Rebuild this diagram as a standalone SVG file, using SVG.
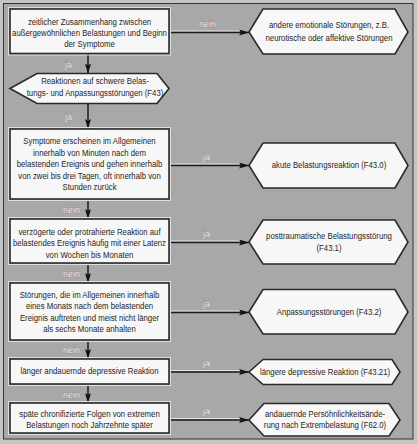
<svg xmlns="http://www.w3.org/2000/svg" width="417" height="444" viewBox="0 0 417 444">
<defs>
<style>
.box{fill:#f7f7f7;stroke:#2a2a2a;stroke-width:1.6}
.rim{fill:none;stroke:#dedede;stroke-width:1}
.t{font-family:"Liberation Sans",Arial,sans-serif;font-size:9.5px;fill:#1e1e1e;text-anchor:middle}
.lb{font-family:"Liberation Sans",Arial,sans-serif;font-size:9px;fill:#f4f4f4;stroke:#4a4a4a;stroke-width:0.3;paint-order:stroke}
.ln{fill:none;stroke:#1a1a1a;stroke-width:1.5}
.hl{fill:none;stroke:#e2e2e2;stroke-width:1}
</style>
<marker id="ah" viewBox="0 0 10 6" refX="10" refY="3" markerWidth="10" markerHeight="6" markerUnits="userSpaceOnUse" orient="auto">
<path d="M0,0 L10,3 L0,6 L2,3 Z" fill="#111"/>
</marker>
</defs>
<rect x="0" y="0" width="417" height="444" fill="#c4c4c4"/>
<rect x="3.5" y="3.5" width="409.5" height="435.5" fill="#a8a8a8" stroke="#333" stroke-width="1"/>

<g id="connectors">
<path class="hl" d="M170,31 H240"/><path class="ln" d="M170,32.5 H249" marker-end="url(#ah)"/>
<path class="hl" d="M170,164 H240"/><path class="ln" d="M170,165.5 H249" marker-end="url(#ah)"/>
<path class="hl" d="M170,241 H240"/><path class="ln" d="M170,242.5 H249" marker-end="url(#ah)"/>
<path class="hl" d="M170,311 H240"/><path class="ln" d="M170,312.5 H249" marker-end="url(#ah)"/>
<path class="hl" d="M170,370.5 H240"/><path class="ln" d="M170,372 H249" marker-end="url(#ah)"/>
<path class="hl" d="M170,418.5 H240"/><path class="ln" d="M170,420 H249" marker-end="url(#ah)"/>
<path class="ln" d="M88,54 V73.5" marker-end="url(#ah)"/>
<path class="ln" d="M88,104 V129" marker-end="url(#ah)"/>
<path class="ln" d="M88,200 V219" marker-end="url(#ah)"/>
<path class="ln" d="M88,264 V283" marker-end="url(#ah)"/>
<path class="ln" d="M88,341 V359" marker-end="url(#ah)"/>
<path class="ln" d="M88,385 V403" marker-end="url(#ah)"/>
<text class="lb" x="199" y="27">nein</text>
<text class="lb" x="203" y="160">ja</text>
<text class="lb" x="203" y="237">ja</text>
<text class="lb" x="203" y="307">ja</text>
<text class="lb" x="203" y="366">ja</text>
<text class="lb" x="203" y="414">ja</text>
<text class="lb" x="65" y="68">ja</text>
<text class="lb" x="65" y="120">ja</text>
<text class="lb" x="63" y="213">nein</text>
<text class="lb" x="63" y="277">nein</text>
<text class="lb" x="63" y="353">nein</text>
<text class="lb" x="63" y="398">nein</text>
</g>

<g id="b1">
<rect class="rim" x="8.5" y="7.5" width="162" height="47.5"/>
<rect class="box" x="10" y="9" width="159" height="44.5"/>
<text class="t" transform="translate(89.5,0) scale(0.82,1)"><tspan x="0" y="25.5">zeitlicher Zusammenhang zwischen</tspan><tspan x="0" y="36.5">außergewöhnlichen Belastungen und Beginn</tspan><tspan x="0" y="47.5">der Symptome</tspan></text>
</g>

<g id="h0">
<path class="box" d="M10,88.5 L37,73.5 H157 L169,88.5 L157,103.5 H37 Z"/>
<text class="t" transform="translate(95,0) scale(0.82,1)"><tspan x="0" y="84.5">Reaktionen auf schwere Belas-</tspan><tspan x="0" y="96.5">tungs- und Anpassungsstörungen (F43)</tspan></text>
</g>

<g id="b2">
<rect class="rim" x="8.5" y="127.5" width="162" height="73"/>
<rect class="box" x="10" y="129" width="159" height="70"/>
<text class="t" transform="translate(89.5,0) scale(0.82,1)"><tspan x="0" y="144.5">Symptome erscheinen im Allgemeinen</tspan><tspan x="0" y="156">innerhalb von Minuten nach dem</tspan><tspan x="0" y="167.5">belastenden Ereignis und gehen innerhalb</tspan><tspan x="0" y="179">von zwei bis drei Tagen, oft innerhalb von</tspan><tspan x="0" y="190.5">Stunden zurück</tspan></text>
</g>

<g id="b3">
<rect class="rim" x="8.5" y="217.5" width="162" height="47"/>
<rect class="box" x="10" y="219" width="159" height="44"/>
<text class="t" transform="translate(89.5,0) scale(0.82,1)"><tspan x="0" y="235.5">verzögerte oder protrahierte Reaktion auf</tspan><tspan x="0" y="246.5">belastendes Ereignis häufig mit einer Latenz</tspan><tspan x="0" y="258">von Wochen bis Monaten</tspan></text>
</g>

<g id="b4">
<rect class="rim" x="8.5" y="281.5" width="162" height="60"/>
<rect class="box" x="10" y="283" width="159" height="57"/>
<text class="t" transform="translate(89.5,0) scale(0.82,1)"><tspan x="0" y="298">Störungen, die im Allgemeinen innerhalb</tspan><tspan x="0" y="309.5">eines Monats nach dem belastenden</tspan><tspan x="0" y="321">Ereignis auftreten und meist nicht länger</tspan><tspan x="0" y="332.5">als sechs Monate anhalten</tspan></text>
</g>

<g id="b5">
<rect class="rim" x="8.5" y="357.5" width="162" height="28"/>
<rect class="box" x="10" y="359" width="159" height="25"/>
<text class="t" transform="translate(89.5,0) scale(0.82,1)"><tspan x="0" y="374.5">länger andauernde depressive Reaktion</tspan></text>
</g>

<g id="b6">
<rect class="rim" x="8.5" y="401.5" width="162" height="33"/>
<rect class="box" x="10" y="403" width="159" height="30"/>
<text class="t" transform="translate(89.5,0) scale(0.82,1)"><tspan x="0" y="417">späte chronifizierte Folgen von extremen</tspan><tspan x="0" y="428.5">Belastungen noch Jahrzehnte später</tspan></text>
</g>

<g id="h1">
<path class="box" d="M249,32 L263,9 H395 L408,32 L395,54 H263 Z"/>
<text class="t" transform="translate(329,0) scale(0.82,1)"><tspan x="0" y="28">andere emotionale Störungen, z.B.</tspan><tspan x="0" y="41">neurotische oder affektive Störungen</tspan></text>
</g>

<g id="h2">
<path class="box" d="M249,165.5 L263,143 H395 L408,165.5 L395,188 H263 Z"/>
<text class="t" transform="translate(329,0) scale(0.82,1)"><tspan x="0" y="168">akute Belastungsreaktion (F43.0)</tspan></text>
</g>

<g id="h3">
<path class="box" d="M249,242 L263,220 H395 L408,242 L395,264 H263 Z"/>
<text class="t" transform="translate(329,0) scale(0.82,1)"><tspan x="0" y="239.5">posttraumatische Belastungsstörung</tspan><tspan x="0" y="251.5">(F43.1)</tspan></text>
</g>

<g id="h4">
<path class="box" d="M249,312 L263,289.5 H395 L408,312 L395,334 H263 Z"/>
<text class="t" transform="translate(329,0) scale(0.82,1)"><tspan x="0" y="315">Anpassungsstörungen (F43.2)</tspan></text>
</g>

<g id="h5">
<path class="box" d="M249,372 L263,359.5 H392 L400,372 L392,384.5 H263 Z"/>
<text class="t" transform="translate(325,0) scale(0.82,1)"><tspan x="0" y="375">längere depressive Reaktion (F43.21)</tspan></text>
</g>

<g id="h6">
<path class="box" d="M249,420 L264,403.5 H389 L400,420 L389,436 H264 Z"/>
<text class="t" transform="translate(325,0) scale(0.82,1)"><tspan x="0" y="417">andauernde Persöhnlichkeitsände-</tspan><tspan x="0" y="428.5">rung nach Extrembelastung (F62.0)</tspan></text>
</g>
</svg>
